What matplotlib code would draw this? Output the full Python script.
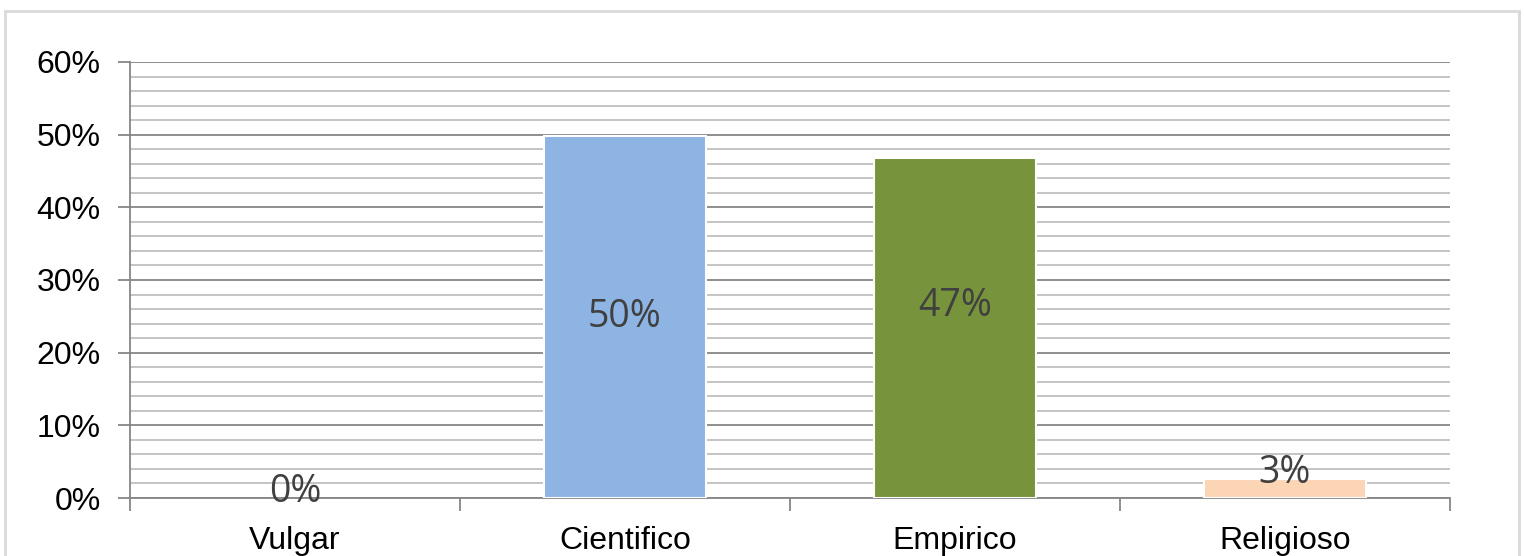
import matplotlib
matplotlib.use("Agg")
import matplotlib.pyplot as plt
from matplotlib.patches import Rectangle
from matplotlib.ticker import MultipleLocator, FuncFormatter

categories = ["Vulgar", "Cientifico", "Empirico", "Religioso"]
values = [0.0, 0.498, 0.468, 0.026]
labels = ["0%", "50%", "47%", "3%"]
colors = ["#8EB4E3", "#8EB4E3", "#77933C", "#FCD5B5"]
yticks = [0.0, 0.1, 0.2, 0.3, 0.4, 0.5, 0.6]

fig = plt.figure(figsize=(15.25, 5.56), dpi=100)
fig.patches.append(Rectangle((5/1525, -0.05), 1514/1525, 1.05 - 11/556,
                             transform=fig.transFigure, fill=False,
                             edgecolor="#D9D9D9", linewidth=2))
ax = fig.add_axes([130/1525, 1 - 498/556, 1320/1525, 436/556])

x = list(range(len(categories)))
edges = ["white" if v > 0 else "none" for v in values]
ax.bar(x, values, width=0.49, color=colors, edgecolor=edges, linewidth=1.5, zorder=3)

ax.set_xlim(-0.5, len(categories) - 0.5)
ax.set_ylim(0, 0.6)
ax.set_yticks(yticks)
ax.yaxis.set_major_formatter(FuncFormatter(lambda v, p: f"{v*100:.0f}%"))
ax.yaxis.set_minor_locator(MultipleLocator(0.02))
ax.grid(axis="y", which="major", color="#868686", linewidth=1.3, zorder=0)
ax.grid(axis="y", which="minor", color="#BFBFBF", linewidth=1.3, zorder=0)
ax.set_axisbelow(True)

ax.set_xticks(x)
ax.set_xticklabels(categories, fontsize=23, family="Liberation Sans")
ax.set_xticks([i + 0.5 for i in range(-1, len(categories))], minor=True)
ax.tick_params(axis="x", which="major", length=0, pad=20)
ax.tick_params(axis="x", which="minor", length=9, color="#868686", width=1.3)
ax.tick_params(axis="y", which="major", length=9, color="#868686", width=1.3,
               labelsize=23, pad=12)
ax.tick_params(axis="y", which="minor", length=0)
for lbl in ax.get_yticklabels():
    lbl.set_family("Liberation Sans")

for s in ["top", "right"]:
    ax.spines[s].set_visible(False)
for s in ["left", "bottom"]:
    ax.spines[s].set_color("#868686")
    ax.spines[s].set_linewidth(1.3)

for xi, v, lab in zip(x, values, labels):
    if v > 0.1:
        y = v / 2 + (0.0 if v > 0.49 else 0.03)
    else:
        y = v + 0.008
    ax.text(xi, y, lab, ha="center", va="center", fontsize=27,
            family="Open Sans", color="#404040", zorder=4)

fig.savefig("out.png", dpi=100)
